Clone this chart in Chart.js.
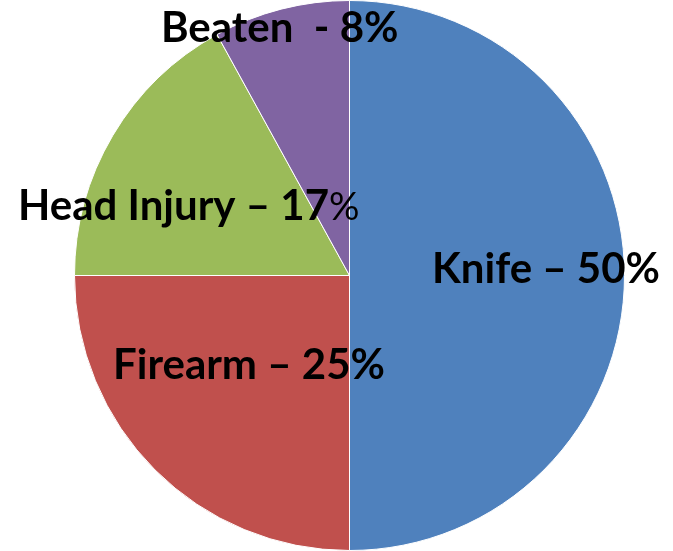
<!DOCTYPE html>
<html><head><meta charset="utf-8">
<script src="https://cdn.jsdelivr.net/npm/chart.js@4"></script>
<style>html,body{margin:0;padding:0;background:#fff}#wrap{width:673px;height:551px}</style>
</head><body><div id="wrap"><canvas id="c" width="673" height="551"></canvas></div>
<script>
const categories = ["Knife", "Firearm", "Head Injury", "Beaten "];
const values = [50, 25, 17, 8];
const colors = ["#4F81BD", "#C0504D", "#9BBB59", "#8064A2"];
const separators = [" – ", " – ", " – ", " - "];
// label anchor positions (left x, baseline y) in pixels
const labelPos = [[432, 283], [113, 379], [18, 220], [161, 42]];

const labelPlugin = {
  id: 'labels',
  afterDraw(chart) {
    const ctx = chart.ctx;
    ctx.save();
    ctx.fillStyle = '#000';
    ctx.textAlign = 'left';
    ctx.textBaseline = 'alphabetic';
    categories.forEach((c, i) => {
      const main = c + separators[i] + values[i];
      ctx.font = 'bold 42px Lato';
      ctx.fillText(main, labelPos[i][0], labelPos[i][1]);
      const w = ctx.measureText(main).width;
      ctx.font = (i === 2 ? '38px Lato' : 'bold 42px Lato');
      ctx.fillText('%', labelPos[i][0] + w, labelPos[i][1]);
    });
    ctx.restore();
  }
};

new Chart(document.getElementById('c'), {
  type: 'pie',
  data: { labels: categories, datasets: [{ data: values, backgroundColor: colors, borderColor: '#ffffff', borderWidth: 1 }] },
  options: {
    responsive: false, animation: false,
    layout: { padding: { left: 26, right: 0, top: 0, bottom: 0 } },
    plugins: { legend: { display: false }, tooltip: { enabled: false } }
  },
  plugins: [labelPlugin]
});
</script></body></html>
